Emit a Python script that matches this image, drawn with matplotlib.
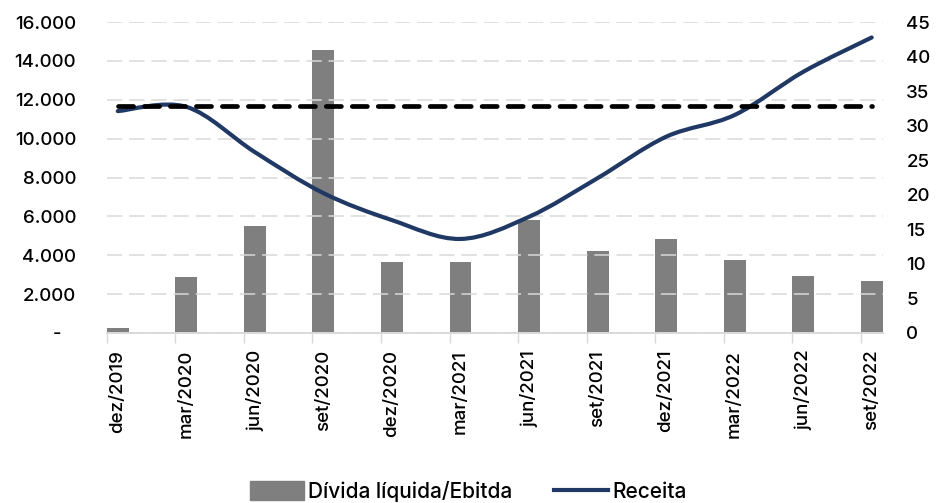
import matplotlib.pyplot as plt
import numpy as np
from matplotlib.path import Path
from matplotlib.patches import PathPatch, Patch
from matplotlib.lines import Line2D
from matplotlib.ticker import FuncFormatter

# Quarterly series
quarters = ["dez/2019", "mar/2020", "jun/2020", "set/2020", "dez/2020", "mar/2021",
            "jun/2021", "set/2021", "dez/2021", "mar/2022", "jun/2022", "set/2022"]
receita = [11420, 11640, 9310, 7200, 5810, 4840, 5980, 7970, 10100, 11220, 13440, 15210]
div_ebitda = [0.7, 8.1, 15.5, 41.0, 10.3, 10.3, 16.35, 11.9, 13.6, 10.6, 8.25, 7.5]
receita_ref = 11680

plt.rcParams["font.family"] = ["Inter", "DejaVu Sans"]
plt.rcParams["font.weight"] = "medium"

BAR_W = 0.32
x = np.arange(len(quarters))

fig = plt.figure(figsize=(9.37, 5.03), dpi=100)
ax = fig.add_axes([0.114, 0.338, 0.828, 0.618])
ax2 = ax.twinx()

# bars on the right axis
ax2.bar(x, div_ebitda, width=BAR_W, color="#7f7f7f", zorder=2)

# smoothed revenue line (bezier through the points, left axis)
pts = np.column_stack([x, receita]).astype(float)
ext = np.vstack([pts[0], pts, pts[-1]])
verts = [pts[0]]
codes = [Path.MOVETO]
for i in range(len(pts) - 1):
    p0, p1, p2, p3 = ext[i], ext[i + 1], ext[i + 2], ext[i + 3]
    verts += [p1 + (p2 - p0) / 6, p2 - (p3 - p1) / 6, p2]
    codes += [Path.CURVE4] * 3
ax.set_zorder(ax2.get_zorder() + 1)
ax.patch.set_visible(False)
ax.add_patch(PathPatch(Path(verts, codes), facecolor="none", edgecolor="#1f3864",
                       lw=3.0, capstyle="round", zorder=3))

# reference level
ax.plot([x[0], x[-1]], [receita_ref, receita_ref], color="black", lw=3.4,
        linestyle=(0, (3.2, 2.3)), dash_capstyle="round", zorder=4)

ax.set_xlim(x[0] - BAR_W / 2, x[-1] + BAR_W / 2)
ax.set_ylim(0, 16000)
ax2.set_ylim(0, 45)
ax.set_yticks(np.arange(0, 16001, 2000))
ax2.set_yticks(np.arange(0, 46, 5))
ax.yaxis.set_major_formatter(FuncFormatter(
    lambda v, p: "-   " if v == 0 else f"{int(v):,}".replace(",", ".")))

ax.grid(axis="y", color="#d9d9d9", lw=1.1, linestyle=(0, (10, 4.5)), zorder=0)
ax.set_axisbelow(True)

# labels centred on bars, tick marks at bar left edges
ax.set_xticks(x)
ax.set_xticklabels(quarters, rotation=90, fontsize=13.5)
ax.set_xticks(x - BAR_W / 2, minor=True)
ax.tick_params(axis="x", which="major", length=0, pad=12)
ax.tick_params(axis="x", which="minor", length=7, width=1, color="#d9d9d9")
ax.tick_params(axis="y", length=0, pad=22, labelsize=13.5)
ax2.tick_params(axis="y", length=0, pad=17, labelsize=13.5)

for a in (ax, ax2):
    for side in ("left", "right", "top"):
        a.spines[side].set_visible(False)
    a.spines["bottom"].set_color("#d9d9d9")
    a.spines["bottom"].set_linewidth(1.2)

handles = [Patch(color="#7f7f7f", label="Dívida líquida/Ebitda"),
           Line2D([], [], color="#1f3864", lw=3.0, label="Receita")]
fig.legend(handles=handles, loc="lower center", bbox_to_anchor=(0.5, -0.035), ncol=2,
           frameon=False, fontsize=15, handlelength=2.6, handleheight=1.0,
           handletextpad=0.2, columnspacing=2.0)

fig.savefig("out.png", dpi=100)
